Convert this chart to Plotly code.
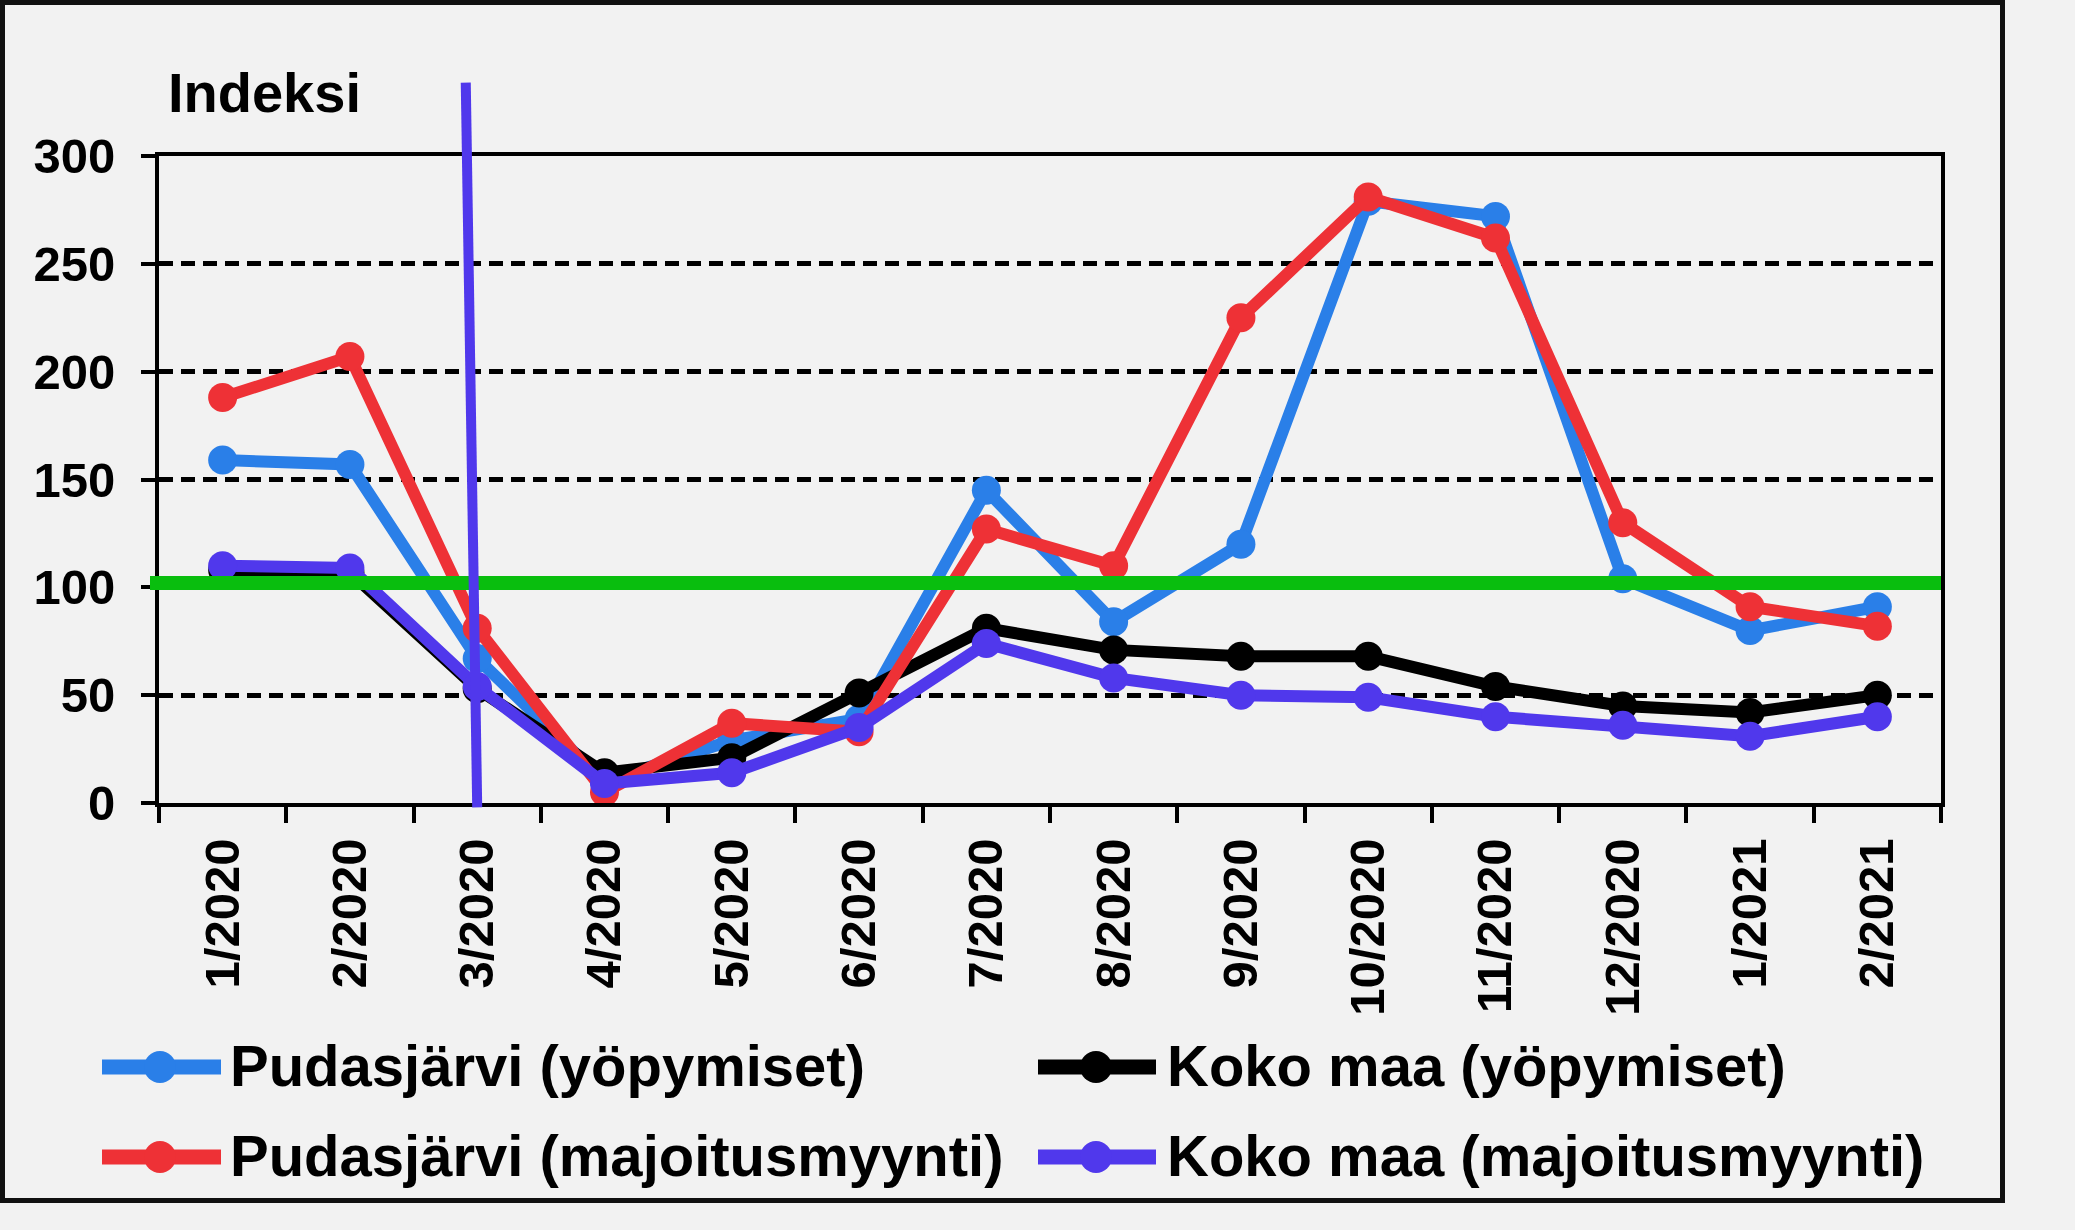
import plotly.graph_objects as go

# ---------------- data ----------------
months = ["1/2020", "2/2020", "3/2020", "4/2020", "5/2020", "6/2020", "7/2020",
          "8/2020", "9/2020", "10/2020", "11/2020", "12/2020", "1/2021", "2/2021"]

pudas_yopymiset = [159, 157, 67, 10, 29, 39, 145, 84, 120, 279, 272, 104, 80, 91]
koko_yopymiset = [108, 107, 53, 14, 21, 51, 81, 71, 68, 68, 54, 45, 42, 50]
pudas_majoitus = [188, 207, 81, 5, 37, 33, 127, 110, 225, 281, 262, 130, 91, 82]
koko_majoitus = [110, 109, 54, 9, 14, 35, 74, 58, 50, 49, 40, 36, 31, 40]

series_names = ["Pudasjärvi (yöpymiset)", "Koko maa (yöpymiset)",
                "Pudasjärvi (majoitusmyynti)", "Koko maa (majoitusmyynti)"]
series_values = [pudas_yopymiset, koko_yopymiset, pudas_majoitus, koko_majoitus]
series_colors = ["#2A7FE8", "#000000", "#EE3136", "#5038EC"]

y_ticks = [0, 50, 100, 150, 200, 250, 300]
reference_level = 102          # green reference line
covid_marker_x = [1.91, 2.0]   # slanted purple marker line (category units)
covid_marker_y = [334, -2]

# ---------------- layout geometry (pixels) ----------------
W, H = 2075, 1230
PL, PR, PT, PB = 159, 1941, 156, 803
Y_MAX = 300
FONT = "Liberation Sans"


def px_x(px):
    return (px - PL) / (PR - PL)


def px_y(py):
    return (PB - py) / (PB - PT)


fig = go.Figure()

x_idx = list(range(len(months)))
for name, vals, col in zip(series_names, series_values, series_colors):
    fig.add_trace(go.Scatter(
        x=x_idx, y=vals, name=name, mode="lines+markers",
        line=dict(color=col, width=12),
        marker=dict(color=col, size=29),
        showlegend=False,
    ))

shapes = []
# green reference line
shapes.append(dict(type="line", xref="paper", yref="y", layer="above",
                   x0=px_x(150), x1=1, y0=reference_level, y1=reference_level,
                   line=dict(color="#09BE0E", width=14)))
# purple vertical marker line
shapes.append(dict(type="line", xref="x", yref="paper", layer="above",
                   x0=covid_marker_x[0], x1=covid_marker_x[1],
                   y0=covid_marker_y[0] / Y_MAX, y1=covid_marker_y[1] / Y_MAX,
                   line=dict(color="#5038EC", width=10)))
# outer frame
shapes.append(dict(type="rect", xref="paper", yref="paper", layer="above",
                   x0=px_x(2.5), x1=px_x(2002.5), y0=px_y(1200.5), y1=px_y(2.5),
                   line=dict(color="#111111", width=5), fillcolor="rgba(0,0,0,0)"))

annotations = [dict(text="Indeksi", xref="paper", yref="paper",
                    x=px_x(166), y=px_y(93), xanchor="left", yanchor="middle",
                    showarrow=False,
                    font=dict(family=FONT, size=56, color="black", weight="bold"))]

# custom legend (2 x 2)
leg_cols = [(102, 221, 160, 228), (1038, 1156, 1096, 1165)]
leg_rows = [1067, 1157]
for i, (name, col) in enumerate(zip(series_names, series_colors)):
    r, c = divmod(i, 2)
    x0, x1, cx, tx = leg_cols[c]
    cy = leg_rows[r]
    shapes.append(dict(type="line", xref="paper", yref="paper",
                       x0=px_x(x0), x1=px_x(x1), y0=px_y(cy), y1=px_y(cy),
                       line=dict(color=col, width=15)))
    shapes.append(dict(type="circle", xref="paper", yref="paper",
                       xsizemode="pixel", ysizemode="pixel",
                       xanchor=px_x(cx), yanchor=px_y(cy),
                       x0=-16, x1=16, y0=-16, y1=16,
                       fillcolor=col, line=dict(width=0)))
    annotations.append(dict(text=name, xref="paper", yref="paper",
                            x=px_x(tx), y=px_y(cy - 2), xanchor="left", yanchor="middle",
                            showarrow=False,
                            font=dict(family=FONT, size=58, color="black", weight="bold")))

fig.update_layout(
    width=W, height=H,
    margin=dict(l=PL, r=W - PR, t=PT, b=H - PB, pad=0),
    paper_bgcolor="#F2F2F2", plot_bgcolor="#F2F2F2",
    shapes=shapes, annotations=annotations,
    showlegend=False,
    font=dict(family=FONT, color="black"),
)

fig.update_xaxes(
    range=[-0.5, len(months) - 0.5],
    tickvals=x_idx, ticktext=months, tickangle=-90,
    ticks="", showgrid=False, zeroline=False,
    showline=True, linecolor="black", linewidth=4, mirror=True,
    tickfont=dict(family=FONT, size=49, color="black", weight="bold"),
    ticklabelstandoff=12,
    minor=dict(tick0=-0.5, dtick=1, ticks="outside", ticklen=16,
               tickwidth=4, tickcolor="black", showgrid=False),
)

fig.update_yaxes(
    range=[0, Y_MAX], tickvals=y_ticks,
    ticks="outside", ticklen=14, tickwidth=4, tickcolor="black",
    showline=True, linecolor="black", linewidth=4, mirror=True,
    showgrid=True, gridcolor="black", gridwidth=5, griddash="14px,8px",
    zeroline=False,
    tickfont=dict(family=FONT, size=49, color="black", weight="bold"),
    ticklabelstandoff=16,
)

fig.write_html("out.html")
